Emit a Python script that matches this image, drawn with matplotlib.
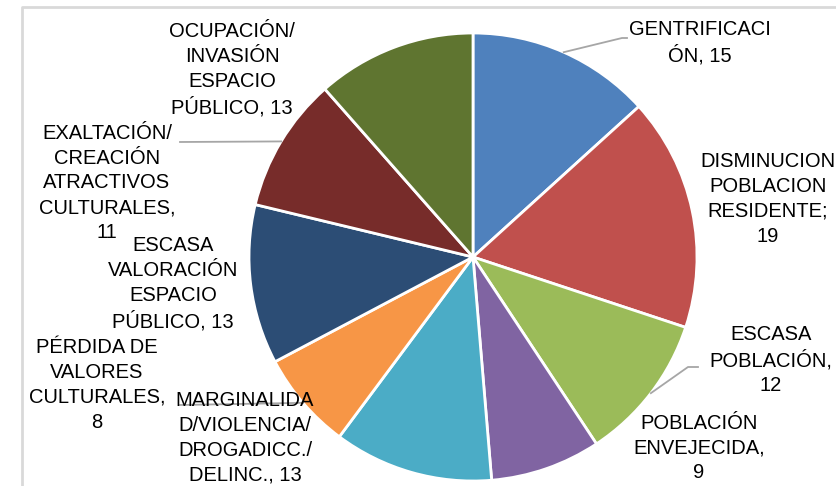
import matplotlib.pyplot as plt
import numpy as np

# Data (clockwise from the top)
labels = [
    'GENTRIFICACI\nÓN, 15',
    'DISMINUCION\nPOBLACION\nRESIDENTE;\n19',
    'ESCASA\nPOBLACIÓN,\n12',
    'POBLACIÓN\nENVEJECIDA,\n9',
    'MARGINALIDA\nD/VIOLENCIA/\nDROGADICC./\nDELINC., 13',
    'PÉRDIDA DE\nVALORES\nCULTURALES,\n8',
    'ESCASA\nVALORACIÓN\nESPACIO\nPÚBLICO, 13',
    'EXALTACIÓN/\nCREACIÓN\nATRACTIVOS\nCULTURALES,\n11',
    'OCUPACIÓN/\nINVASIÓN\nESPACIO\nPÚBLICO, 13',
]
values = [15, 19, 12, 9, 13, 8, 13, 11, 13]
colors = ['#4F81BD', '#C0504D', '#9BBB59', '#8064A2', '#4BACC6',
          '#F79646', '#2C4D75', '#772C2A', '#5F7530']

# label placement in pixels (x, y from top), and leader elbow points
label_pos = [(700, 43), (768, 199), (771, 360), (699, 448), (245, 438),
             (97, 385), (173, 284), (107, 183), (232, 70)]
leaders = {0: [(622, 38), (627, 38)], 2: [(688, 367), (698, 367)],
           5: [(180, 405)], 7: [(180, 142)]}

W, H = 836, 486
fig = plt.figure(figsize=(W / 100, H / 100), dpi=100)
ax = fig.add_axes([0, 0, 1, 1])

cx, cy, r = 473, H - 257, 224

# light frame of the chart area
ax.plot([22, 22, W + 5], [-5, H - 7, H - 7], color='#d9d9d9', lw=2, zorder=0)

wedges, _ = ax.pie(values, colors=colors, startangle=90, counterclock=False,
                   center=(cx, cy), radius=r, frame=True,
                   wedgeprops=dict(edgecolor='white', linewidth=2))
ax.set_xlim(0, W)
ax.set_ylim(0, H)
ax.axis('off')

for i, w in leaders.items():
    wd = wedges[i]
    mid = np.deg2rad((wd.theta1 + wd.theta2) / 2)
    pts = [(cx + r * np.cos(mid), cy + r * np.sin(mid))]
    pts += [(x, H - y) for x, y in w]
    xs, ys = zip(*pts)
    ax.plot(xs, ys, color='#a6a6a6', lw=1.3, zorder=1)

for lab, (x, y) in zip(labels, label_pos):
    ax.text(x, H - y, lab, ha='center', va='center', fontsize=14.5,
            family='Liberation Sans', color='black', linespacing=1.38,
            zorder=5)

fig.savefig('out.png', dpi=100)
